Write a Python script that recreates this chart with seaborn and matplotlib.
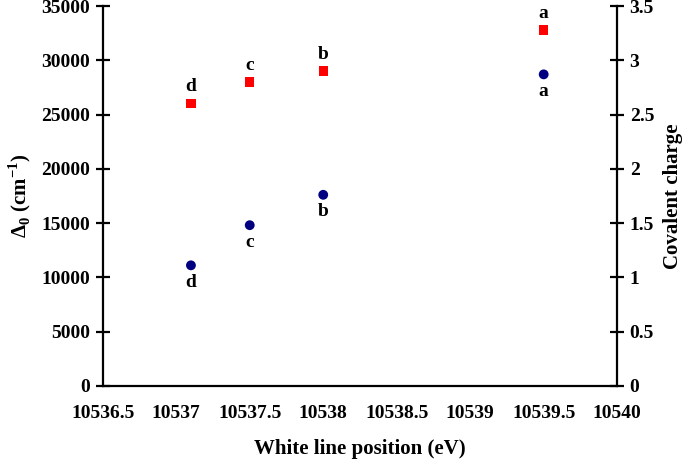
import matplotlib
matplotlib.use("Agg")
import matplotlib.pyplot as plt
import seaborn as sns

# data
samples = ["d", "c", "b", "a"]
white_line = [10537.1, 10537.5, 10538.0, 10539.5]
delta0 = [26000, 28000, 29000, 32800]
cov_charge = [1.11, 1.48, 1.76, 2.87]

sns.set_style("white")
plt.rcParams['font.family'] = ['Liberation Serif', 'DejaVu Serif']
plt.rcParams['font.weight'] = 'bold'
plt.rcParams['text.color'] = 'black'
plt.rcParams['axes.labelcolor'] = 'black'
plt.rcParams['xtick.color'] = 'black'
plt.rcParams['ytick.color'] = 'black'
plt.rcParams['mathtext.fontset'] = 'custom'
plt.rcParams['mathtext.rm'] = 'Liberation Serif:bold'
plt.rcParams['mathtext.bf'] = 'Liberation Serif:bold'

fig = plt.figure(figsize=(6.85, 4.62), dpi=100)
ax = fig.add_axes([0.150, 0.165, 0.751, 0.822])
ax2 = ax.twinx()

sns.scatterplot(x=white_line, y=delta0, ax=ax, marker='s', color='#ff0000',
                s=45, edgecolor='none', zorder=3)
sns.scatterplot(x=white_line, y=cov_charge, ax=ax2, marker='o', color='#000080',
                s=50, edgecolor='none', zorder=3)

for x, y, lab in zip(white_line, delta0, samples):
    ax.annotate(lab, (x, y), xytext=(0, 6), textcoords='offset points',
                ha='center', va='bottom', fontsize=14, fontweight='bold', color='black')
for x, y, lab in zip(white_line, cov_charge, samples):
    ax2.annotate(lab, (x, y), xytext=(0, -6), textcoords='offset points',
                 ha='center', va='top', fontsize=14, fontweight='bold', color='black')

ax.set_xlim(10536.5, 10540)
ax.set_ylim(0, 35000)
ax2.set_ylim(0, 3.5)
ax.set_xticks([10536.5 + 0.5 * i for i in range(8)])
ax.set_xticklabels(["10536.5", "10537", "10537.5", "10538", "10538.5",
                    "10539", "10539.5", "10540"])
ax.set_yticks(range(0, 35001, 5000))
ax2.set_yticks([0, 0.5, 1, 1.5, 2, 2.5, 3, 3.5])
ax2.set_yticklabels(["0", "0.5", "1", "1.5", "2", "2.5", "3", "3.5"])

for a in (ax, ax2):
    for side in a.spines:
        a.spines[side].set_linewidth(1.6)
        a.spines[side].set_color('black')
    a.spines['top'].set_visible(False)
ax.spines['right'].set_visible(False)
ax2.spines['left'].set_visible(False)
ax2.spines['bottom'].set_visible(False)

ax.tick_params(axis='x', direction='out', length=6, width=1.6, labelsize=14, pad=8)
ax.tick_params(axis='y', direction='inout', length=10, width=1.6, labelsize=14, pad=4)
ax2.tick_params(axis='y', direction='inout', length=10, width=1.6, labelsize=14, pad=4)

ax.set_xlabel("White line position (eV)", fontsize=15, fontweight='bold', labelpad=12)
ax.set_ylabel(r"$\mathrm{\Delta}_0$ (cm$^{-1}$)", fontsize=15, fontweight='bold', labelpad=6)
ax2.set_ylabel("Covalent charge", fontsize=15, fontweight='bold', labelpad=6)

fig.savefig("out.png", dpi=100)
